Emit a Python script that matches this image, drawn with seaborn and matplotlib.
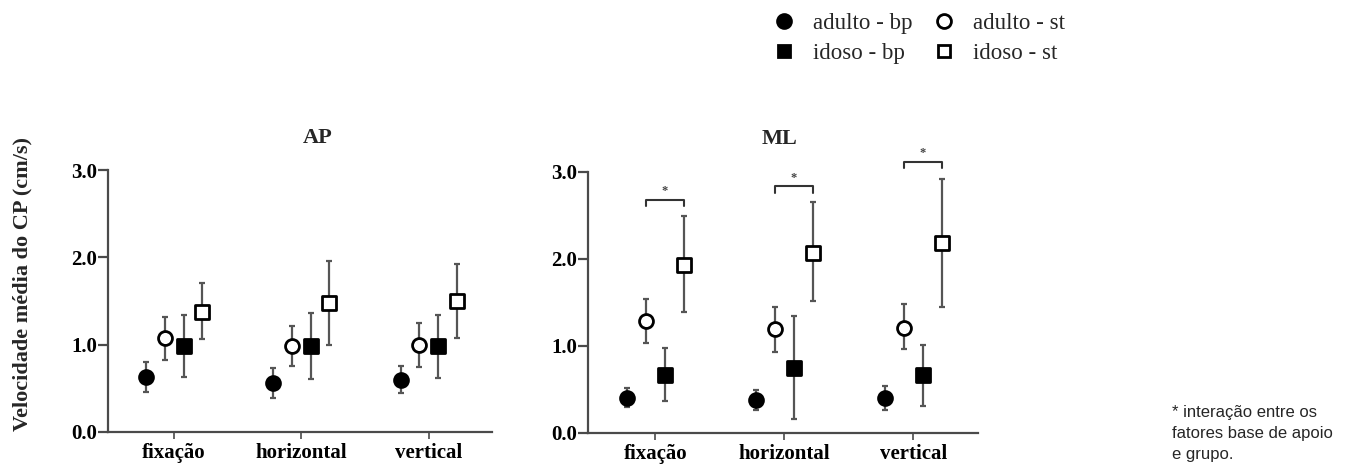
import numpy as np
import pandas as pd
import seaborn as sns
import matplotlib.pyplot as plt
from matplotlib.lines import Line2D

# Dados (média e limites inferior/superior da barra de erro)
categorias = ['fixação', 'horizontal', 'vertical']
grupos = ['adulto - bp', 'adulto - st', 'idoso - bp', 'idoso - st']

# AP: uma lista por grupo, um valor por categoria
ap_media = [[0.63, 0.56, 0.60], [1.08, 0.99, 1.00], [0.99, 0.98, 0.98], [1.37, 1.48, 1.50]]
ap_inf = [[0.46, 0.39, 0.45], [0.82, 0.76, 0.75], [0.63, 0.61, 0.62], [1.07, 1.00, 1.08]]
ap_sup = [[0.80, 0.73, 0.76], [1.32, 1.21, 1.25], [1.34, 1.36, 1.34], [1.71, 1.96, 1.93]]

# ML
ml_media = [[0.40, 0.38, 0.40], [1.29, 1.19, 1.21], [0.66, 0.75, 0.67], [1.93, 2.07, 2.18]]
ml_inf = [[0.30, 0.26, 0.26], [1.03, 0.93, 0.96], [0.37, 0.16, 0.31], [1.39, 1.51, 1.44]]
ml_sup = [[0.52, 0.49, 0.54], [1.54, 1.45, 1.48], [0.97, 1.34, 1.01], [2.49, 2.65, 2.91]]

# altura das chaves de interação (ML)
ml_chave = [2.68, 2.83, 3.11]

deslocamento = [-0.22, -0.075, 0.075, 0.22]
marcadores = ['o', 'o', 's', 's']
cheio = [True, False, True, False]
tamanho = [100, 100, 90, 90]


def monta_df(media, inf, sup):
    linhas = []
    for g, grupo in enumerate(grupos):
        for c, cat in enumerate(categorias):
            linhas.append({'grupo': grupo, 'categoria': cat, 'x': c + deslocamento[g],
                           'media': media[g][c], 'inf': inf[g][c], 'sup': sup[g][c]})
    return pd.DataFrame(linhas)


df_ap = monta_df(ap_media, ap_inf, ap_sup)
df_ml = monta_df(ml_media, ml_inf, ml_sup)

sns.set_theme(style='ticks')
plt.rcParams['font.family'] = ['Liberation Serif', 'DejaVu Serif']

fig = plt.figure(figsize=(13.49, 4.69), dpi=100)
ax1 = fig.add_axes([0.080, 0.079, 0.285, 0.558])
ax2 = fig.add_axes([0.436, 0.077, 0.289, 0.557])

cor_linha = '#4a4a4a'

for ax, df, titulo, tx in [(ax1, df_ap, 'AP', 0.545), (ax2, df_ml, 'ML', 0.492)]:
    for g, grupo in enumerate(grupos):
        sub = df[df['grupo'] == grupo]
        ax.errorbar(sub['x'], sub['media'],
                    yerr=[sub['media'] - sub['inf'], sub['sup'] - sub['media']],
                    fmt='none', ecolor='#555555', elinewidth=1.6, capsize=2.5,
                    capthick=1.6, zorder=1)
        sns.scatterplot(data=sub, x='x', y='media', marker=marcadores[g], s=tamanho[g],
                        color='black' if cheio[g] else 'white', edgecolor='black',
                        linewidth=2, ax=ax, zorder=3, legend=False, clip_on=False)
    ax.set_xlim(-0.52, 2.5)
    ax.set_ylim(0, 3.0)
    ax.set_xticks(range(len(categorias)))
    ax.set_xticklabels(categorias, fontweight='bold', fontsize=15)
    ax.set_yticks([0, 1, 2, 3])
    ax.set_yticklabels(['0.0', '1.0', '2.0', '3.0'], fontweight='bold', fontsize=15)
    ax.set_xlabel('')
    ax.set_ylabel('')
    sns.despine(ax=ax)
    for lado in ['left', 'bottom']:
        ax.spines[lado].set_color(cor_linha)
        ax.spines[lado].set_linewidth(1.6)
    ax.tick_params(axis='y', length=7, width=1.6, color=cor_linha, pad=1, labelcolor='black')
    ax.tick_params(axis='x', length=5, width=1.2, color=cor_linha, pad=3, labelcolor='black')
    ax.text(tx, 1.125, titulo, transform=ax.transAxes, ha='center', va='center',
            fontweight='bold', fontsize=16)

# chaves de interação no painel ML
for c, altura in enumerate(ml_chave):
    x0 = c + deslocamento[1]
    x1 = c + deslocamento[3]
    ax2.plot([x0, x0, x1, x1], [altura - 0.07, altura, altura, altura - 0.07],
             color='#333333', lw=1.5, clip_on=False)
    ax2.text((x0 + x1) / 2, altura + 0.03, '*', ha='center', va='bottom',
             fontsize=9, fontweight='bold', color='#444444', clip_on=False)

fig.text(0.017, 0.394, 'Velocidade média do CP (cm/s)', rotation=90, ha='center',
         va='center', fontweight='bold', fontsize=16)

handles = []
for g in [0, 2, 1, 3]:
    handles.append(Line2D([], [], linestyle='none', marker=marcadores[g],
                          markersize=10 if marcadores[g] == 'o' else 9,
                          markerfacecolor='black' if cheio[g] else 'white',
                          markeredgecolor='black', markeredgewidth=2))
labels = [grupos[g] for g in [0, 2, 1, 3]]
fig.legend(handles, labels, ncol=2, loc='center', bbox_to_anchor=(0.681, 0.918),
           frameon=False, fontsize=16.5, columnspacing=0.9, handletextpad=0.75,
           handlelength=1.0, labelspacing=0.4)

fig.text(0.869, 0.137, '* interação entre os\nfatores base de apoio\ne grupo.',
         ha='left', va='top', fontsize=12, family=['Liberation Sans', 'DejaVu Sans'],
         linespacing=1.5)

fig.savefig('out.png', dpi=100)
